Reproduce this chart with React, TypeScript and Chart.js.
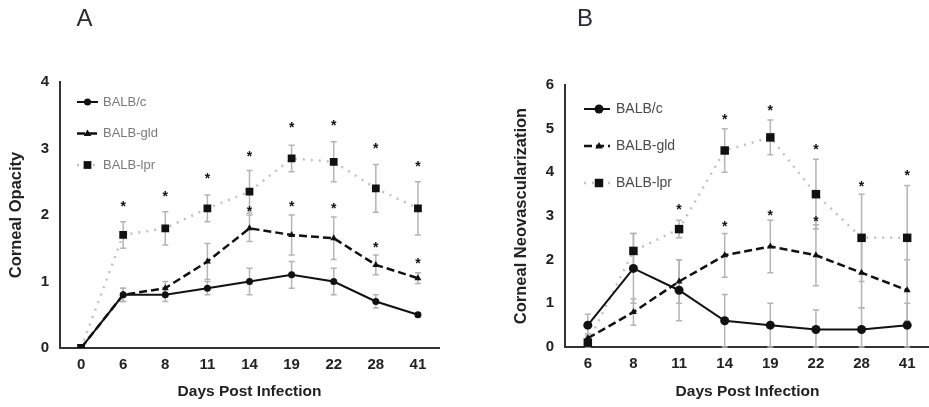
import React, { useEffect, useRef } from 'react';
import { Chart, registerables } from 'chart.js';

Chart.register(...registerables);

// ---------- Panel A: Corneal Opacity ----------
const daysA = ['0', '6', '8', '11', '14', '19', '22', '28', '41'];
const balbcA = [0, 0.8, 0.8, 0.9, 1.0, 1.1, 1.0, 0.7, 0.5];
const balbcAErr = [0, 0.1, 0.1, 0.1, 0.2, 0.2, 0.2, 0.1, 0.03];
const gldA = [0, 0.8, 0.9, 1.3, 1.8, 1.7, 1.65, 1.25, 1.05];
const gldAErr = [0, 0.1, 0.1, 0.27, 0.2, 0.3, 0.32, 0.15, 0.08];
const lprA = [0, 1.7, 1.8, 2.1, 2.35, 2.85, 2.8, 2.4, 2.1];
const lprAErr = [0, 0.2, 0.25, 0.2, 0.32, 0.2, 0.3, 0.36, 0.4];
const gldAStar = [null, null, null, null, 2.09, 2.17, 2.13, 1.55, 1.31];
const lprAStar = [null, 2.16, 2.31, 2.58, 2.91, 3.35, 3.38, 3.03, 2.77];
const yTicksA = [0, 1, 2, 3, 4];

// ---------- Panel B: Corneal Neovascularization ----------
const daysB = ['6', '8', '11', '14', '19', '22', '28', '41'];
const balbcB = [0.5, 1.8, 1.3, 0.6, 0.5, 0.4, 0.4, 0.5];
const balbcBErr = [0.25, 0.8, 0.7, 0.6, 0.5, 0.45, 0.5, 0.5];
const gldB = [0.2, 0.8, 1.5, 2.1, 2.3, 2.1, 1.7, 1.3];
const gldBErr = [0.1, 0.3, 0.5, 0.5, 0.6, 0.7, 0.8, 0.7];
const lprB = [0.1, 2.2, 2.7, 4.5, 4.8, 3.5, 2.5, 2.5];
const lprBErr = [0.1, 0.4, 0.2, 0.5, 0.4, 0.8, 1.0, 1.2];
const gldBStar = [null, null, null, 2.82, 3.06, 2.93, null, null];
const lprBStar = [null, null, 3.2, 5.27, 5.46, 4.57, 3.73, 3.98];
const yTicksB = [0, 1, 2, 3, 4, 5, 6];

const seriesNames = ['BALB/c', 'BALB-gld', 'BALB-lpr'];

const FONT = "'Liberation Sans', Arial, sans-serif";

function drawMarker(ctx: CanvasRenderingContext2D, style: string, x: number, y: number, r: number) {
  ctx.beginPath();
  if (style === 'circle') {
    ctx.arc(x, y, r, 0, Math.PI * 2);
  } else if (style === 'triangle') {
    ctx.moveTo(x, y - r);
    ctx.lineTo(x + r * 0.95, y + r * 0.6);
    ctx.lineTo(x - r * 0.95, y + r * 0.6);
    ctx.closePath();
  } else {
    const s = (r * Math.SQRT2) / 2;
    ctx.rect(x - s, y - s, s * 2, s * 2);
  }
  ctx.fill();
}

const errorBarsPlugin = {
  id: 'errorBars',
  beforeDatasetsDraw(chart: any) {
    const ctx = chart.ctx;
    const y = chart.scales.y;
    ctx.save();
    ctx.strokeStyle = '#b4b4b4';
    ctx.lineWidth = 1.5;
    chart.data.datasets.forEach((ds: any, i: number) => {
      const meta = chart.getDatasetMeta(i);
      ds.err.forEach((e: number, j: number) => {
        if (!e) return;
        const v = ds.data[j];
        const x = meta.data[j].x;
        const yt = y.getPixelForValue(v + e);
        const yb = y.getPixelForValue(Math.max(0, v - e));
        ctx.beginPath();
        ctx.moveTo(x, yt);
        ctx.lineTo(x, yb);
        ctx.moveTo(x - 3, yt);
        ctx.lineTo(x + 3, yt);
        ctx.moveTo(x - 3, yb);
        ctx.lineTo(x + 3, yb);
        ctx.stroke();
      });
    });
    ctx.restore();
  },
};

const starsPlugin = {
  id: 'stars',
  afterDatasetsDraw(chart: any) {
    const ctx = chart.ctx;
    const y = chart.scales.y;
    ctx.save();
    ctx.fillStyle = '#111';
    ctx.font = `bold 14px ${FONT}`;
    ctx.textAlign = 'center';
    ctx.textBaseline = 'middle';
    chart.data.datasets.forEach((ds: any, i: number) => {
      if (!ds.stars) return;
      const meta = chart.getDatasetMeta(i);
      ds.stars.forEach((s: number | null, j: number) => {
        if (s === null || s === undefined) return;
        ctx.fillText('*', meta.data[j].x, y.getPixelForValue(s) + 3);
      });
    });
    ctx.restore();
  },
};

const legendPlugin = {
  id: 'customLegend',
  afterDraw(chart: any, _args: any, opts: any) {
    const ctx = chart.ctx;
    const { left, top } = chart.chartArea;
    ctx.save();
    chart.data.datasets.forEach((ds: any, i: number) => {
      const yy = top + opts.y0 + i * opts.gap;
      const x0 = left + opts.x0;
      const x1 = x0 + opts.lineLen;
      ctx.strokeStyle = ds.borderColor;
      ctx.lineWidth = ds.borderWidth;
      ctx.setLineDash(ds.borderDash || []);
      ctx.beginPath();
      ctx.moveTo(x0, yy);
      ctx.lineTo(x1, yy);
      ctx.stroke();
      ctx.setLineDash([]);
      ctx.fillStyle = ds.pointBackgroundColor;
      drawMarker(ctx, ds.pointStyle, (x0 + x1) / 2 + opts.markerShift, yy, ds.pointRadius);
      ctx.fillStyle = opts.color;
      ctx.font = `${opts.size}px ${FONT}`;
      ctx.textAlign = 'left';
      ctx.textBaseline = 'middle';
      ctx.fillText(ds.label, x1 + opts.textGap, yy);
    });
    ctx.restore();
  },
};

const letterPlugin = {
  id: 'panelLetter',
  afterDraw(chart: any, _args: any, opts: any) {
    const ctx = chart.ctx;
    ctx.save();
    ctx.fillStyle = '#2a2a3a';
    ctx.font = `24px ${FONT}`;
    ctx.textAlign = 'center';
    ctx.textBaseline = 'middle';
    ctx.fillText(opts.text, opts.x, opts.y);
    ctx.restore();
  },
};

function makeConfig(p: any) {
  return {
    type: 'line',
    data: {
      labels: p.labels,
      datasets: [
        {
          label: seriesNames[0],
          data: p.c,
          err: p.cErr,
          borderColor: '#111',
          borderWidth: 2,
          pointStyle: 'circle',
          pointRadius: p.circleR,
          pointBackgroundColor: '#111',
          pointBorderWidth: 0,
          tension: 0,
        },
        {
          label: seriesNames[1],
          data: p.g,
          err: p.gErr,
          stars: p.gStar,
          borderColor: '#111',
          borderWidth: 2.5,
          borderDash: [8, 4],
          pointStyle: 'triangle',
          pointRadius: 4,
          pointBackgroundColor: '#111',
          pointBorderWidth: 0,
          tension: 0,
        },
        {
          label: seriesNames[2],
          data: p.l,
          err: p.lErr,
          stars: p.lStar,
          borderColor: '#c2c2c2',
          borderWidth: 2.5,
          borderDash: [2, 6],
          pointStyle: 'rect',
          pointRadius: p.rectR,
          pointBackgroundColor: '#111',
          pointBorderWidth: 0,
          tension: 0,
        },
      ],
    },
    options: {
      responsive: false,
      animation: false,
      layout: { padding: p.padding },
      plugins: {
        legend: { display: false },
        tooltip: { enabled: false },
        customLegend: p.legend,
        panelLetter: p.letter,
      },
      scales: {
        x: {
          type: 'category',
          offset: true,
          grid: { display: false, drawTicks: false },
          border: { display: true, color: '#333', width: 2 },
          ticks: {
            color: '#222',
            font: { family: FONT, size: 15, weight: 'bold' },
            padding: 8,
            maxRotation: 0,
            autoSkip: false,
          },
          title: {
            display: true,
            text: 'Days Post Infection',
            color: '#222',
            font: { family: FONT, size: 15.5, weight: 'bold' },
            padding: { top: 4, bottom: 5.5 },
          },
          afterFit: (s: any) => {
            s.height = p.xHeight;
          },
        },
        y: {
          min: 0,
          max: p.yMax,
          afterBuildTicks: (s: any) => {
            s.ticks = p.yTicks.map((v: number) => ({ value: v }));
          },
          grid: { display: false, drawTicks: false },
          border: { display: true, color: '#333', width: 2 },
          ticks: {
            color: '#222',
            font: { family: FONT, size: 15, weight: 'bold' },
            padding: 11,
          },
          title: {
            display: true,
            text: p.yTitle,
            color: '#222',
            font: { family: FONT, size: 16.5, weight: 'bold' },
            padding: { top: p.yTitlePad, bottom: 0 },
          },
          afterFit: (s: any) => {
            s.width = p.yWidth;
          },
        },
      },
    },
    plugins: [errorBarsPlugin, starsPlugin, legendPlugin, letterPlugin],
  };
}

function Panel(props: { cfg: any; width: number; height: number; left: number }) {
  const ref = useRef<HTMLCanvasElement | null>(null);
  useEffect(() => {
    if (!ref.current) return;
    const chart = new Chart(ref.current, props.cfg as any);
    return () => chart.destroy();
  }, []);
  return (
    <canvas
      ref={ref}
      width={props.width}
      height={props.height}
      style={{ position: 'absolute', left: props.left, top: 0, width: props.width, height: props.height }}
    />
  );
}

export default function App() {
  const cfgA = makeConfig({
    labels: daysA,
    c: balbcA,
    cErr: balbcAErr,
    g: gldA,
    gErr: gldAErr,
    gStar: gldAStar,
    l: lprA,
    lErr: lprAErr,
    lStar: lprAStar,
    yMax: 4,
    yTicks: yTicksA,
    yTitle: 'Corneal Opacity',
    yTitlePad: 7,
    yWidth: 60,
    xHeight: 59,
    padding: { left: 0, top: 82, right: 26, bottom: 0 },
    circleR: 3.5,
    rectR: 5.5,
    legend: { x0: 17, y0: 20, gap: 31.5, lineLen: 21, markerShift: 0, textGap: 5, size: 13, color: '#7a7a7a' },
    letter: { text: 'A', x: 84.5, y: 19 },
  });
  const cfgB = makeConfig({
    labels: daysB,
    c: balbcB,
    cErr: balbcBErr,
    g: gldB,
    gErr: gldBErr,
    gStar: gldBStar,
    l: lprB,
    lErr: lprBErr,
    lStar: lprBStar,
    yMax: 6,
    yTicks: yTicksB,
    yTitle: 'Corneal Neovascularization',
    yTitlePad: 12,
    yWidth: 65,
    xHeight: 60,
    padding: { left: 0, top: 85, right: 0, bottom: 0 },
    circleR: 4.5,
    rectR: 6,
    legend: { x0: 19, y0: 24, gap: 37, lineLen: 26, markerShift: 2, textGap: 6, size: 14, color: '#4a4a4a' },
    letter: { text: 'B', x: 85, y: 19 },
  });
  return (
    <div
      style={{
        position: 'fixed',
        left: 0,
        top: 0,
        width: 929,
        height: 407,
        overflow: 'hidden',
        background: '#fff',
      }}
    >
      <Panel cfg={cfgA} width={465} height={407} left={0} />
      <Panel cfg={cfgB} width={436} height={407} left={500} />
    </div>
  );
}
